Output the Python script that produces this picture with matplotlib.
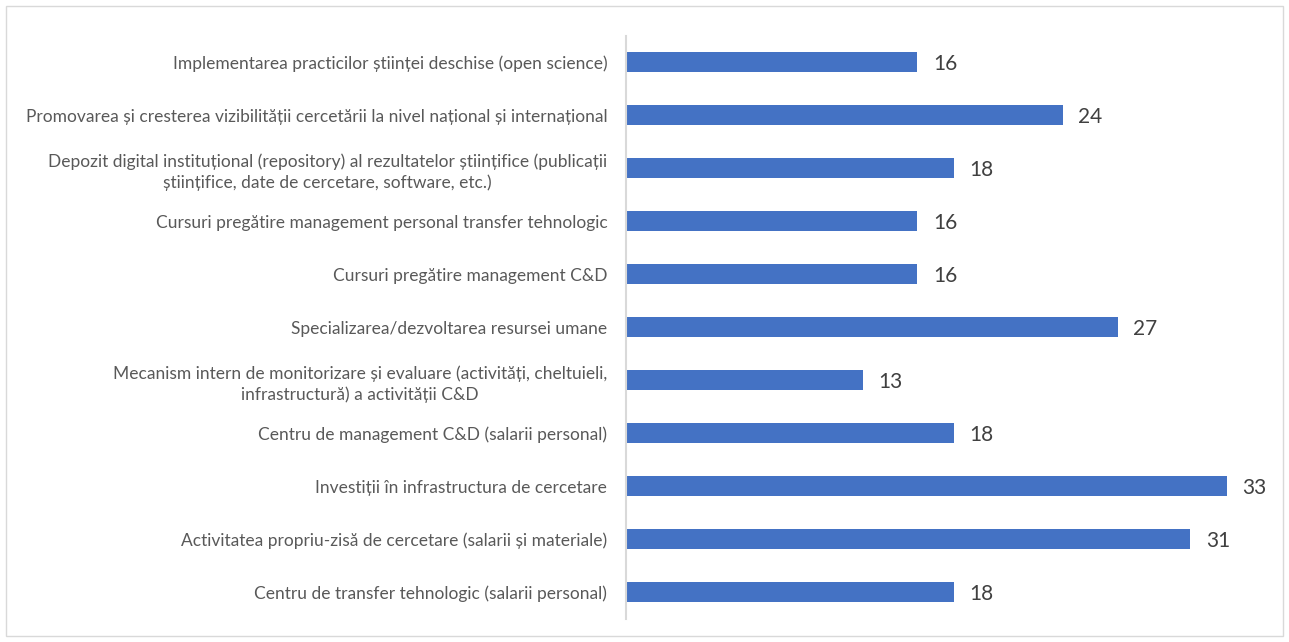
import matplotlib.pyplot as plt
from matplotlib.patches import Rectangle

# Data (top to bottom as shown)
categories = [
    "Implementarea practicilor științei deschise (open science)",
    "Promovarea și cresterea vizibilității cercetării la nivel național și internațional",
    "Depozit digital instituțional (repository) al rezultatelor științifice (publicații\nștiințifice, date de cercetare, software, etc.)",
    "Cursuri pregătire management personal transfer tehnologic",
    "Cursuri pregătire management C&D",
    "Specializarea/dezvoltarea resursei umane",
    "Mecanism intern de monitorizare și evaluare (activități, cheltuieli,\ninfrastructură) a activității C&D",
    "Centru de management C&D (salarii personal)",
    "Investiții în infrastructura de cercetare",
    "Activitatea propriu-zisă de cercetare (salarii și materiale)",
    "Centru de transfer tehnologic (salarii personal)",
]
values = [16, 24, 18, 16, 16, 27, 13, 18, 33, 31, 18]

plt.rcParams["font.family"] = ["Lato", "DejaVu Sans"]

fig = plt.figure(figsize=(12.89, 6.42), dpi=100)
ax = fig.add_axes([0.4857, 0.0366, 0.4943, 0.9081])

pos = list(range(len(values)))[::-1]
ax.barh(pos, values, height=0.36, color="#4472C4")

for p, v in zip(pos, values):
    ax.text(v + 0.85, p - 0.03, str(v), va="center", ha="left",
            fontsize=15, color="#404040")

ax.set_ylim(-0.5, len(values) - 0.5)
ax.set_xlim(0, 35)
ax.set_yticks(pos)
ax.set_yticklabels(categories, fontsize=12.5, color="#595959",
                   multialignment="center", linespacing=1.4)
ax.tick_params(axis="y", length=0, pad=13.5)
ax.set_xticks([])

for s in ["top", "right", "bottom"]:
    ax.spines[s].set_visible(False)
ax.spines["left"].set_color("#D9D9D9")
ax.spines["left"].set_linewidth(1.5)

# chart frame
fig.patches.append(Rectangle((6 / 1289, 6 / 642), 1 - 12 / 1289, 1 - 12 / 642,
                             transform=fig.transFigure, fill=False,
                             edgecolor="#D9D9D9", linewidth=1))

fig.savefig("out.png", dpi=100)
